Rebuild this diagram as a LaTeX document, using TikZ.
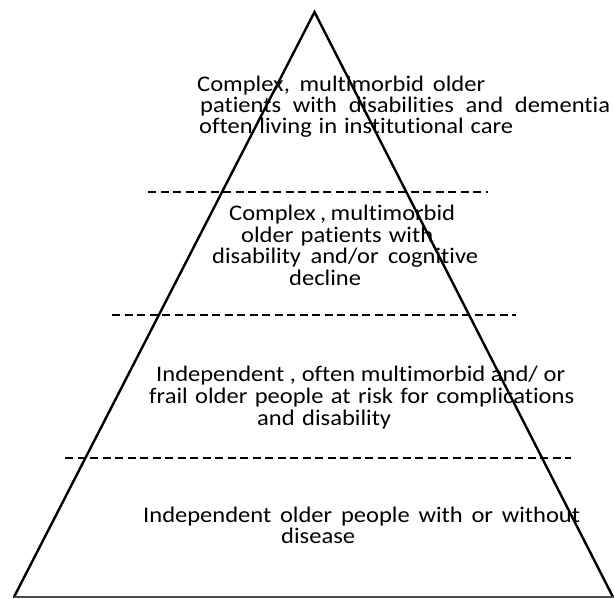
\documentclass[tikz,border=0pt]{standalone}
\usepackage{fontspec}
\setmainfont{Carlito}[FakeStretch=1.1,Ligatures=NoCommon]
\newcommand{\pyrline}[2]{\makebox[#1pt][s]{#2}}
\begin{document}
\begin{tikzpicture}[x=1pt,y=-1pt,
  lbl/.style={anchor=base west,inner sep=0pt,font=\fontsize{22.3}{26}\selectfont},
  sep/.style={dashed,dash pattern=on 8pt off 4.5pt,line width=1.3pt},
  side/.style={line width=2.4pt,line cap=round}]
\useasboundingbox (0,0) rectangle (614,598);
\coordinate (apex) at (314.5,12);
\coordinate (bl) at (14,597);
\coordinate (br) at (613,597);
\coordinate (be) at (614,597);
\draw[side] (bl) -- (apex) -- (br);
\draw[line width=2pt,black!70] (bl) -- (be);
% dashed separators
\coordinate (d1a) at (148,192); \coordinate (d1b) at (488,192);
\coordinate (d2a) at (112,315); \coordinate (d2b) at (516,315);
\coordinate (d3a) at (65,458);  \coordinate (d3b) at (571,458);
\draw[sep] (d1a) -- (d1b);
\draw[sep] (d2a) -- (d2b);
\draw[sep] (d3a) -- (d3b);
% level 4 (top)
\node[lbl] (t1) at (197,91) {\pyrline{288}{Complex, multimorbid older}};
\node[lbl] (t2) at (200,112) {\pyrline{410}{patients with disabilities and dementia}};
\node[lbl] (t3) at (199,133) {\pyrline{314}{often living in institutional care}};
% level 3
\node[lbl] (s1) at (229,220) {\pyrline{226}{Complex , multimorbid}};
\node[lbl] (s2) at (241,242) {\pyrline{192}{older patients with}};
\node[lbl] (s3) at (212,263) {\pyrline{266}{disability and/or cognitive}};
\node[lbl] (s4) at (289,285) {\pyrline{69}{decline}};
% level 2
\node[lbl] (r1) at (156,381) {\pyrline{409}{Independent , often multimorbid and/ or}};
\node[lbl] (r2) at (149,403) {\pyrline{425}{frail older people at risk for complications}};
\node[lbl] (r3) at (257,425) {\pyrline{134}{and disability}};
% level 1
\node[lbl] (q1) at (143,522) {\pyrline{437}{Independent older people with or without}};
\node[lbl] (q2) at (281,543) {\pyrline{71}{disease}};
\end{tikzpicture}
\end{document}
